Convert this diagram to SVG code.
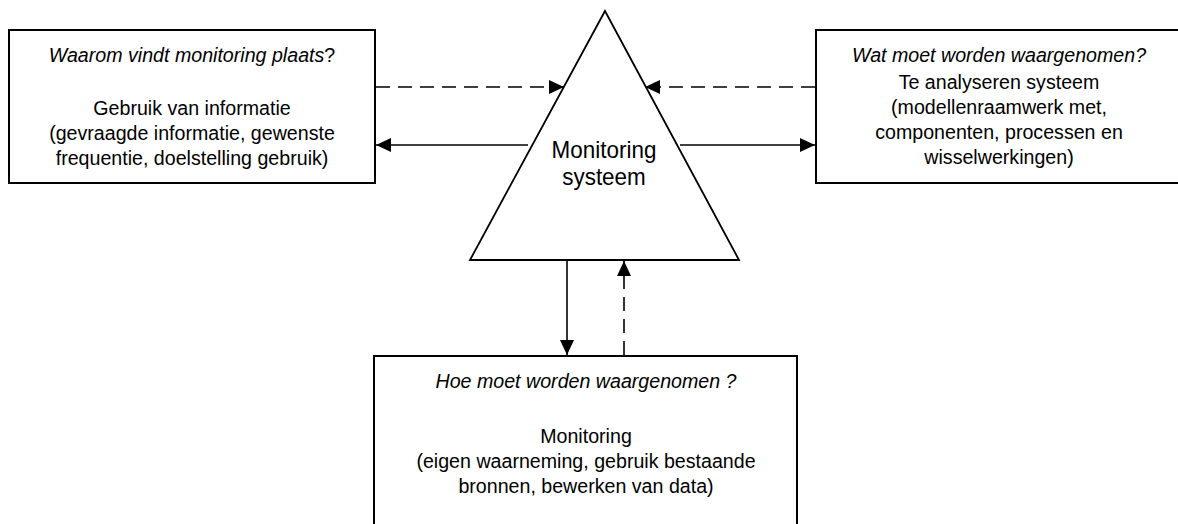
<svg xmlns="http://www.w3.org/2000/svg" width="1178" height="524" viewBox="0 0 1178 524">
<style>
.box{fill:#fff;stroke:#000;stroke-width:2}
.tri{fill:#fff;stroke:#000;stroke-width:1.8}
text{font-family:"Liberation Sans",Arial,sans-serif;font-size:21px;fill:#000;text-anchor:middle}
.it{font-style:italic}
.up{font-style:normal}
.big{font-size:23.5px}
.ln{stroke:#000;stroke-width:1.6;fill:none}
.dash{stroke-dasharray:14 8}
</style>
<defs>
<marker id="ah" viewBox="0 0 15 14" refX="15" refY="7" markerWidth="15" markerHeight="14" markerUnits="userSpaceOnUse" orient="auto">
<path d="M0,0 L15,7 L0,14 Z" fill="#000"/>
</marker>
</defs>
<g id="node-why">
<rect class="box" x="9" y="30" width="366" height="153"/>
<g transform="translate(192,0) scale(0.935,1)">
<text x="0" y="62" class="it">Waarom vindt monitoring plaats<tspan class="up">?</tspan></text>
<text x="0" y="115">Gebruik van informatie</text>
<text x="0" y="140">(gevraagde informatie, gewenste</text>
<text x="0" y="165">frequentie, doelstelling gebruik)</text>
</g>
</g>
<g id="node-what">
<rect class="box" x="816" y="30" width="372" height="153"/>
<g transform="translate(999,0) scale(0.935,1)">
<text x="0" y="62" class="it">Wat moet worden waargenomen?</text>
<text x="0" y="89">Te analyseren systeem</text>
<text x="0" y="114">(modellenraamwerk met,</text>
<text x="0" y="139">componenten, processen en</text>
<text x="0" y="164">wisselwerkingen)</text>
</g>
</g>
<g id="node-system">
<polygon class="tri" points="605,11 739,260 470,260"/>
<g transform="translate(604,0) scale(0.955,1)">
<text x="0" y="158" class="big">Monitoring</text>
<text x="0" y="185" class="big">systeem</text>
</g>
</g>
<g id="node-how">
<rect class="box" x="374" y="356" width="423" height="190"/>
<g transform="translate(586,0) scale(0.935,1)">
<text x="0" y="388" class="it">Hoe moet worden waargenomen ?</text>
<text x="0" y="443">Monitoring</text>
<text x="0" y="468">(eigen waarneming, gebruik bestaande</text>
<text x="0" y="493">bronnen, bewerken van data)</text>
</g>
</g>
<g id="connectors">
<line class="ln dash" x1="376" y1="87" x2="564" y2="87" marker-end="url(#ah)"/>
<line class="ln dash" x1="815" y1="87" x2="645" y2="87" marker-end="url(#ah)"/>
<line class="ln" x1="528" y1="145" x2="376" y2="145" marker-end="url(#ah)"/>
<line class="ln" x1="680" y1="145" x2="815" y2="145" marker-end="url(#ah)"/>
<line class="ln" x1="567" y1="261" x2="567" y2="355" marker-end="url(#ah)"/>
<line class="ln dash" x1="624" y1="355" x2="624" y2="261" marker-end="url(#ah)"/>
</g>
</svg>
